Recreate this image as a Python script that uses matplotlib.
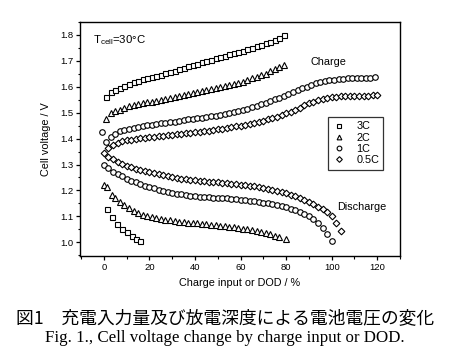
import matplotlib
matplotlib.use("Agg")
import matplotlib.pyplot as plt
from matplotlib.ticker import MultipleLocator

plt.rcParams['font.family'] = ['Liberation Sans', 'DejaVu Sans']
plt.rcParams['mathtext.fontset'] = 'custom'
plt.rcParams['mathtext.rm'] = 'Liberation Sans'

# ---------------- data ----------------
# Charge curves
x_c3 = [1, 3, 5, 7, 9, 11, 13, 15, 17, 19, 21, 23, 25, 27, 29, 31, 33, 35, 37, 39,
        41, 43, 45, 47, 49, 51, 53, 55, 57, 59, 61, 63, 65, 67, 69, 71, 73, 75, 77, 79]
y_c3 = [1.562, 1.578, 1.588, 1.597, 1.604, 1.611, 1.618, 1.624, 1.629, 1.634,
        1.639, 1.643, 1.647, 1.652, 1.657, 1.662, 1.668, 1.673, 1.679, 1.684,
        1.689, 1.695, 1.700, 1.705, 1.710, 1.715, 1.720, 1.725, 1.730, 1.735,
        1.740, 1.746, 1.751, 1.756, 1.762, 1.768, 1.774, 1.781, 1.789, 1.800]

x_c2 = [1, 3, 5, 7, 9, 11, 13, 15, 17, 19, 21, 23, 25, 27, 29, 31, 33, 35, 37, 39,
        41, 43, 45, 47, 49, 51, 53, 55, 57, 59, 61, 63, 65, 67, 69, 71, 73, 75, 77, 79]
y_c2 = [1.475, 1.497, 1.506, 1.512, 1.519, 1.524, 1.528, 1.532, 1.536, 1.540,
        1.543, 1.546, 1.550, 1.553, 1.557, 1.560, 1.564, 1.567, 1.571, 1.575,
        1.579, 1.583, 1.587, 1.591, 1.595, 1.599, 1.603, 1.607, 1.611, 1.615,
        1.620, 1.626, 1.632, 1.638, 1.645, 1.651, 1.659, 1.667, 1.675, 1.684]

x_c1 = [-1, 1, 3, 5, 7, 9, 11, 13, 15, 17, 19, 21, 23, 25, 27, 29, 31, 33, 35, 37, 39,
        41, 43, 45, 47, 49, 51, 53, 55, 57, 59, 61, 63, 65, 67, 69, 71, 73, 75, 77, 79,
        81, 83, 85, 87, 89, 91, 93, 95, 97, 99, 101, 103, 105, 107, 109, 111, 113, 115,
        117, 119]
y_c1 = [1.427, 1.388, 1.405, 1.418, 1.428, 1.434, 1.438, 1.442, 1.445, 1.448, 1.451,
        1.454, 1.456, 1.459, 1.461, 1.463, 1.466, 1.469, 1.471, 1.474, 1.476,
        1.478, 1.481, 1.483, 1.486, 1.489, 1.492, 1.495, 1.498, 1.502, 1.507,
        1.511, 1.516, 1.521, 1.526, 1.532, 1.538, 1.545, 1.551, 1.558, 1.565,
        1.572, 1.579, 1.586, 1.594, 1.601, 1.607, 1.613, 1.618, 1.622, 1.625,
        1.627, 1.629, 1.631, 1.632, 1.633, 1.634, 1.634, 1.635, 1.635, 1.636]

x_c05 = [2, 4, 6, 8, 10, 12, 14, 16, 18, 20, 22, 24, 26, 28, 30, 32, 34, 36, 38, 40,
         42, 44, 46, 48, 50, 52, 54, 56, 58, 60, 62, 64, 66, 68, 70, 72, 74, 76, 78, 80,
         82, 84, 86, 88, 90, 92, 94, 96, 98, 100, 102, 104, 106, 108, 110, 112, 114,
         116, 118, 120]
y_c05 = [1.362, 1.374, 1.383, 1.389, 1.393, 1.396, 1.399, 1.401, 1.403, 1.405,
         1.407, 1.409, 1.411, 1.413, 1.415, 1.417, 1.419, 1.421, 1.423, 1.425,
         1.427, 1.429, 1.431, 1.434, 1.436, 1.439, 1.441, 1.444, 1.447, 1.450,
         1.453, 1.457, 1.461, 1.465, 1.469, 1.474, 1.479, 1.485, 1.491, 1.497,
         1.504, 1.512, 1.520, 1.528, 1.536, 1.543, 1.549, 1.554, 1.557, 1.560,
         1.562, 1.563, 1.564, 1.565, 1.565, 1.566, 1.566, 1.566, 1.567, 1.567]

# Discharge curves
x_d3 = [1.5, 3.7, 5.8, 8, 10.3, 12.5, 14.3, 16]
y_d3 = [1.127, 1.097, 1.072, 1.052, 1.038, 1.024, 1.013, 1.004]

x_d2 = [0, 1.5, 3.5, 5, 7, 9, 11, 13, 15, 17, 19, 21, 23, 25, 27, 29, 31, 33, 35, 37,
        39, 41, 43, 45, 47, 49, 51, 53, 55, 57, 59, 61, 63, 65, 67, 69, 71, 73, 75, 77, 80]
y_d2 = [1.222, 1.212, 1.182, 1.169, 1.156, 1.143, 1.132, 1.122, 1.114, 1.107,
        1.101, 1.097, 1.093, 1.089, 1.086, 1.084, 1.082, 1.080, 1.078, 1.076,
        1.075, 1.073, 1.071, 1.070, 1.068, 1.066, 1.064, 1.062, 1.060, 1.058,
        1.056, 1.053, 1.050, 1.047, 1.044, 1.040, 1.036, 1.031, 1.026, 1.020, 1.013]

x_d1 = [0, 2, 4, 6, 8, 10, 12, 14, 16, 18, 20, 22, 24, 26, 28, 30, 32, 34, 36, 38, 40,
        42, 44, 46, 48, 50, 52, 54, 56, 58, 60, 62, 64, 66, 68, 70, 72, 74, 76, 78, 80,
        82, 84, 86, 88, 90, 92, 94, 96, 98, 100]
y_d1 = [1.300, 1.285, 1.273, 1.263, 1.254, 1.246, 1.238, 1.231, 1.225, 1.219,
        1.213, 1.208, 1.203, 1.199, 1.195, 1.191, 1.188, 1.185, 1.182, 1.180,
        1.178, 1.176, 1.175, 1.173, 1.172, 1.171, 1.170, 1.169, 1.167, 1.166,
        1.164, 1.162, 1.160, 1.158, 1.156, 1.153, 1.150, 1.147, 1.143, 1.139,
        1.135, 1.130, 1.124, 1.117, 1.109, 1.100, 1.089, 1.075, 1.056, 1.032, 1.005]

x_d05 = [0, 2, 4, 6, 8, 10, 12, 14, 16, 18, 20, 22, 24, 26, 28, 30, 32, 34, 36, 38, 40,
         42, 44, 46, 48, 50, 52, 54, 56, 58, 60, 62, 64, 66, 68, 70, 72, 74, 76, 78, 80,
         82, 84, 86, 88, 90, 92, 94, 96, 98, 100, 102, 104]
y_d05 = [1.343, 1.330, 1.320, 1.310, 1.302, 1.295, 1.290, 1.284, 1.279, 1.274,
         1.270, 1.266, 1.262, 1.258, 1.255, 1.252, 1.249, 1.246, 1.244, 1.242,
         1.240, 1.238, 1.236, 1.234, 1.233, 1.231, 1.229, 1.228, 1.226, 1.224,
         1.222, 1.220, 1.218, 1.216, 1.213, 1.210, 1.207, 1.203, 1.199, 1.195,
         1.190, 1.184, 1.178, 1.171, 1.163, 1.154, 1.146, 1.138, 1.130, 1.118,
         1.100, 1.075, 1.043]

rates = ['3C', '2C', '1C', '0.5C']
markers = ['s', '^', 'o', 'D']
msizes = [3.6, 4.0, 4.0, 3.4]

xticks = [0, 20, 40, 60, 80, 100, 120]
yticks = [1.0, 1.1, 1.2, 1.3, 1.4, 1.5, 1.6, 1.7, 1.8]

# ---------------- figure ----------------
fig = plt.figure(figsize=(4.5, 3.64), dpi=100)
ax = fig.add_axes([80 / 450, 1 - 256 / 364, 320 / 450, 234 / 364])

charge = [(x_c3, y_c3), (x_c2, y_c2), (x_c1, y_c1), (x_c05, y_c05)]
discharge = [(x_d3, y_d3), (x_d2, y_d2), (x_d1, y_d1), (x_d05, y_d05)]

style = dict(linestyle='none', markerfacecolor='white', markeredgecolor='black',
             markeredgewidth=0.8)
handles = []
for (xc, yc), (xd, yd), m, ms, lab in zip(charge, discharge, markers, msizes, rates):
    ax.plot(xc, yc, marker=m, markersize=ms, **style)
    ax.plot(xd, yd, marker=m, markersize=ms, **style)
    h, = ax.plot([], [], marker=m, markersize=ms * 0.85, label=lab, **style)
    handles.append(h)

ax.set_xlim(-10.5, 130)
ax.set_ylim(0.947, 1.85)
ax.set_xticks(xticks)
ax.set_yticks(yticks)
ax.set_yticklabels([f'{v:.1f}' for v in yticks])
ax.xaxis.set_minor_locator(MultipleLocator(10))
ax.yaxis.set_minor_locator(MultipleLocator(0.05))
ax.tick_params(which='major', direction='out', length=3, width=0.9, labelsize=6.8,
               top=False, right=False, pad=2)
ax.tick_params(which='minor', direction='out', length=1.8, width=0.8,
               top=False, right=False)
for s in ax.spines.values():
    s.set_linewidth(1.0)

ax.set_xlabel('Charge input or DOD / %', fontsize=7.8, labelpad=4)
ax.set_ylabel('Cell voltage / V', fontsize=7.8, labelpad=6)

ax.text(-4.8, 1.78, r'$\mathregular{T_{cell}}$=30°C', fontsize=8.2, va='center', ha='left')
ax.text(98.5, 1.696, 'Charge', fontsize=7.8, ha='center', va='center')
ax.text(113, 1.137, 'Discharge', fontsize=7.8, ha='center', va='center')

leg = ax.legend(handles=handles, loc='upper left',
                bbox_to_anchor=((328 - 80) / 320, 1 - (117 - 22) / 234),
                fontsize=7.8, frameon=True, fancybox=False, edgecolor='black',
                handlelength=1.2, handletextpad=1.0, labelspacing=0.12,
                borderpad=0.4, borderaxespad=0)
leg.get_frame().set_linewidth(0.9)

fig.text(0.5, 1 - 318 / 364, '図1　充電入力量及び放電深度による電池電圧の変化',
         fontsize=12.8, family=['Noto Sans CJK JP', 'DejaVu Sans'],
         ha='center', va='center')
fig.text(0.5, 1 - 338 / 364, 'Fig. 1., Cell voltage change by charge input or DOD.',
         fontsize=12.2, family=['Liberation Serif', 'DejaVu Serif'],
         ha='center', va='center')

fig.savefig('out.png', dpi=100)
